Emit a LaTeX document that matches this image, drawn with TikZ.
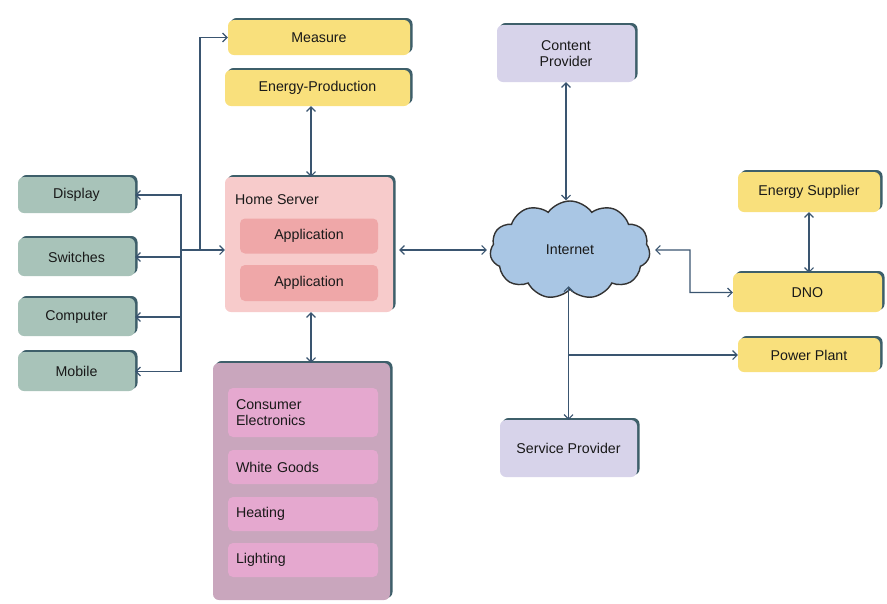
\documentclass[tikz,border=0pt]{standalone}
\usepackage{fontspec}
\setmainfont{Liberation Sans}
\usetikzlibrary{arrows.meta,shapes.symbols,calc}
\definecolor{edgecol}{HTML}{3E5F6A}
\definecolor{yel}{HTML}{F9E07C}
\definecolor{grn}{HTML}{A8C3B9}
\definecolor{hs}{HTML}{F7CBCB}
\definecolor{app}{HTML}{EFA7A8}
\definecolor{cont}{HTML}{C9A6BD}
\definecolor{item}{HTML}{E5A8CF}
\definecolor{lav}{HTML}{D7D3EA}
\definecolor{cloudc}{HTML}{A9C6E4}
\definecolor{linec}{HTML}{3A5570}
\begin{document}
\begin{tikzpicture}[x=1pt,y=-1pt,
  every node/.style={font=\fontsize{14.2}{16}\selectfont, text=black!90},
  box/.style={rounded corners=6pt, inner sep=2pt, align=center,
    preaction={fill=edgecol, transform canvas={shift={(2.5pt,2pt)}}}},
  flat/.style={rounded corners=5pt, inner xsep=8pt, inner ysep=2pt},
  conn/.style={draw=linec, line width=1.1pt, >={Straight Barb[length=4.5pt,width=9pt]}}]
\useasboundingbox (0,0) rectangle (887,603);
% top yellow
\node[box, fill=yel, minimum width=182pt, minimum height=35pt] (measure) at (319,37.5) {Measure};
\node[box, fill=yel, minimum width=185pt, minimum height=36pt] (eprod) at (317.5,88) {Energy-Production};
% left devices
\node[box, fill=grn, minimum width=117pt, minimum height=36pt] (display) at (76.5,195) {Display};
\node[box, fill=grn, minimum width=117pt, minimum height=38pt] (switches) at (76.5,257) {Switches};
\node[box, fill=grn, minimum width=117pt, minimum height=38pt] (computer) at (76.5,317) {Computer};
\node[box, fill=grn, minimum width=117pt, minimum height=39pt] (mobile) at (76.5,371.5) {Mobile};
% home server
\node[box, fill=hs, minimum width=168pt, minimum height=135pt] (homesrv) at (309,244.5) {};
\node[anchor=west, inner sep=0pt] (hslabel) at (235,200) {Home Server};
\node[flat, fill=app, minimum width=138pt, minimum height=35pt] (app1) at (309,236) {Application};
\node[flat, fill=app, minimum width=138pt, minimum height=36pt] (app2) at (309,283) {Application};
% appliances container
\node[box, fill=cont, minimum width=177pt, minimum height=237pt] (appl) at (301.5,481.5) {};
\node[flat, fill=item, text width=134pt, align=left, minimum height=49pt] (ce) at (303,412.5) {Consumer\\Electronics};
\node[flat, fill=item, text width=134pt, align=left, minimum height=34pt] (wg) at (303,467) {White Goods};
\node[flat, fill=item, text width=134pt, align=left, minimum height=34pt] (heat) at (303,514) {Heating};
\node[flat, fill=item, text width=134pt, align=left, minimum height=34pt] (light) at (303,560) {Lighting};
% right side
\node[box, fill=lav, minimum width=138pt, minimum height=57pt] (content) at (566,53.5) {Content\\Provider};
\node[cloud, cloud puffs=11, cloud puff arc=110, aspect=1.6, draw=black!80, line width=1.4pt, fill=cloudc,
  minimum width=160pt, minimum height=98pt, inner sep=0pt] (internet) at (570,250) {Internet};
\node[box, fill=yel, minimum width=142pt, minimum height=40pt] (esup) at (809,192) {Energy Supplier};
\node[box, fill=yel, minimum width=149pt, minimum height=39pt] (dno) at (807.5,292.5) {DNO};
\node[box, fill=yel, minimum width=142pt, minimum height=34pt] (pplant) at (809,355) {Power Plant};
\node[box, fill=lav, minimum width=137pt, minimum height=57pt] (service) at (568.5,448.5) {Service Provider};
% coordinates
\coordinate (bus) at (181,250);
\coordinate (tap) at (200,250);
% connectors
\draw[conn,<->] (homesrv.north -| 311,0) -- (eprod.south -| 311,0);
\draw[conn,<->] (display.east) -| (bus |- mobile.east) -- (mobile.east);
\draw[conn,<-] (switches.east) -- (switches.east -| bus);
\draw[conn,<-] (computer.east) -- (computer.east -| bus);
\draw[conn,->] (bus) -- (tap -| homesrv.west);
\draw[conn,->] (tap) |- (measure.west);
\draw[conn,<->] (homesrv.south -| 311,0) -- (appl.north -| 311,0);
\draw[conn,<->, shorten <=6pt] (homesrv.east |- internet.west) -- ([xshift=-3pt]internet.west);
\draw[conn,<->] (content.south) -- (content.south |- internet.north);
\draw[conn,<->] ([xshift=5pt]internet.east) -- (690,250) |- (dno.west);
\draw[conn,<->] (esup.south) -- (esup.south |- dno.north);
\draw[conn,<->] ([yshift=4pt]service.north |- internet.south) -- (service.north);
\draw[conn,->] (service.north |- pplant.west) -- (pplant.west);
\end{tikzpicture}
\end{document}
